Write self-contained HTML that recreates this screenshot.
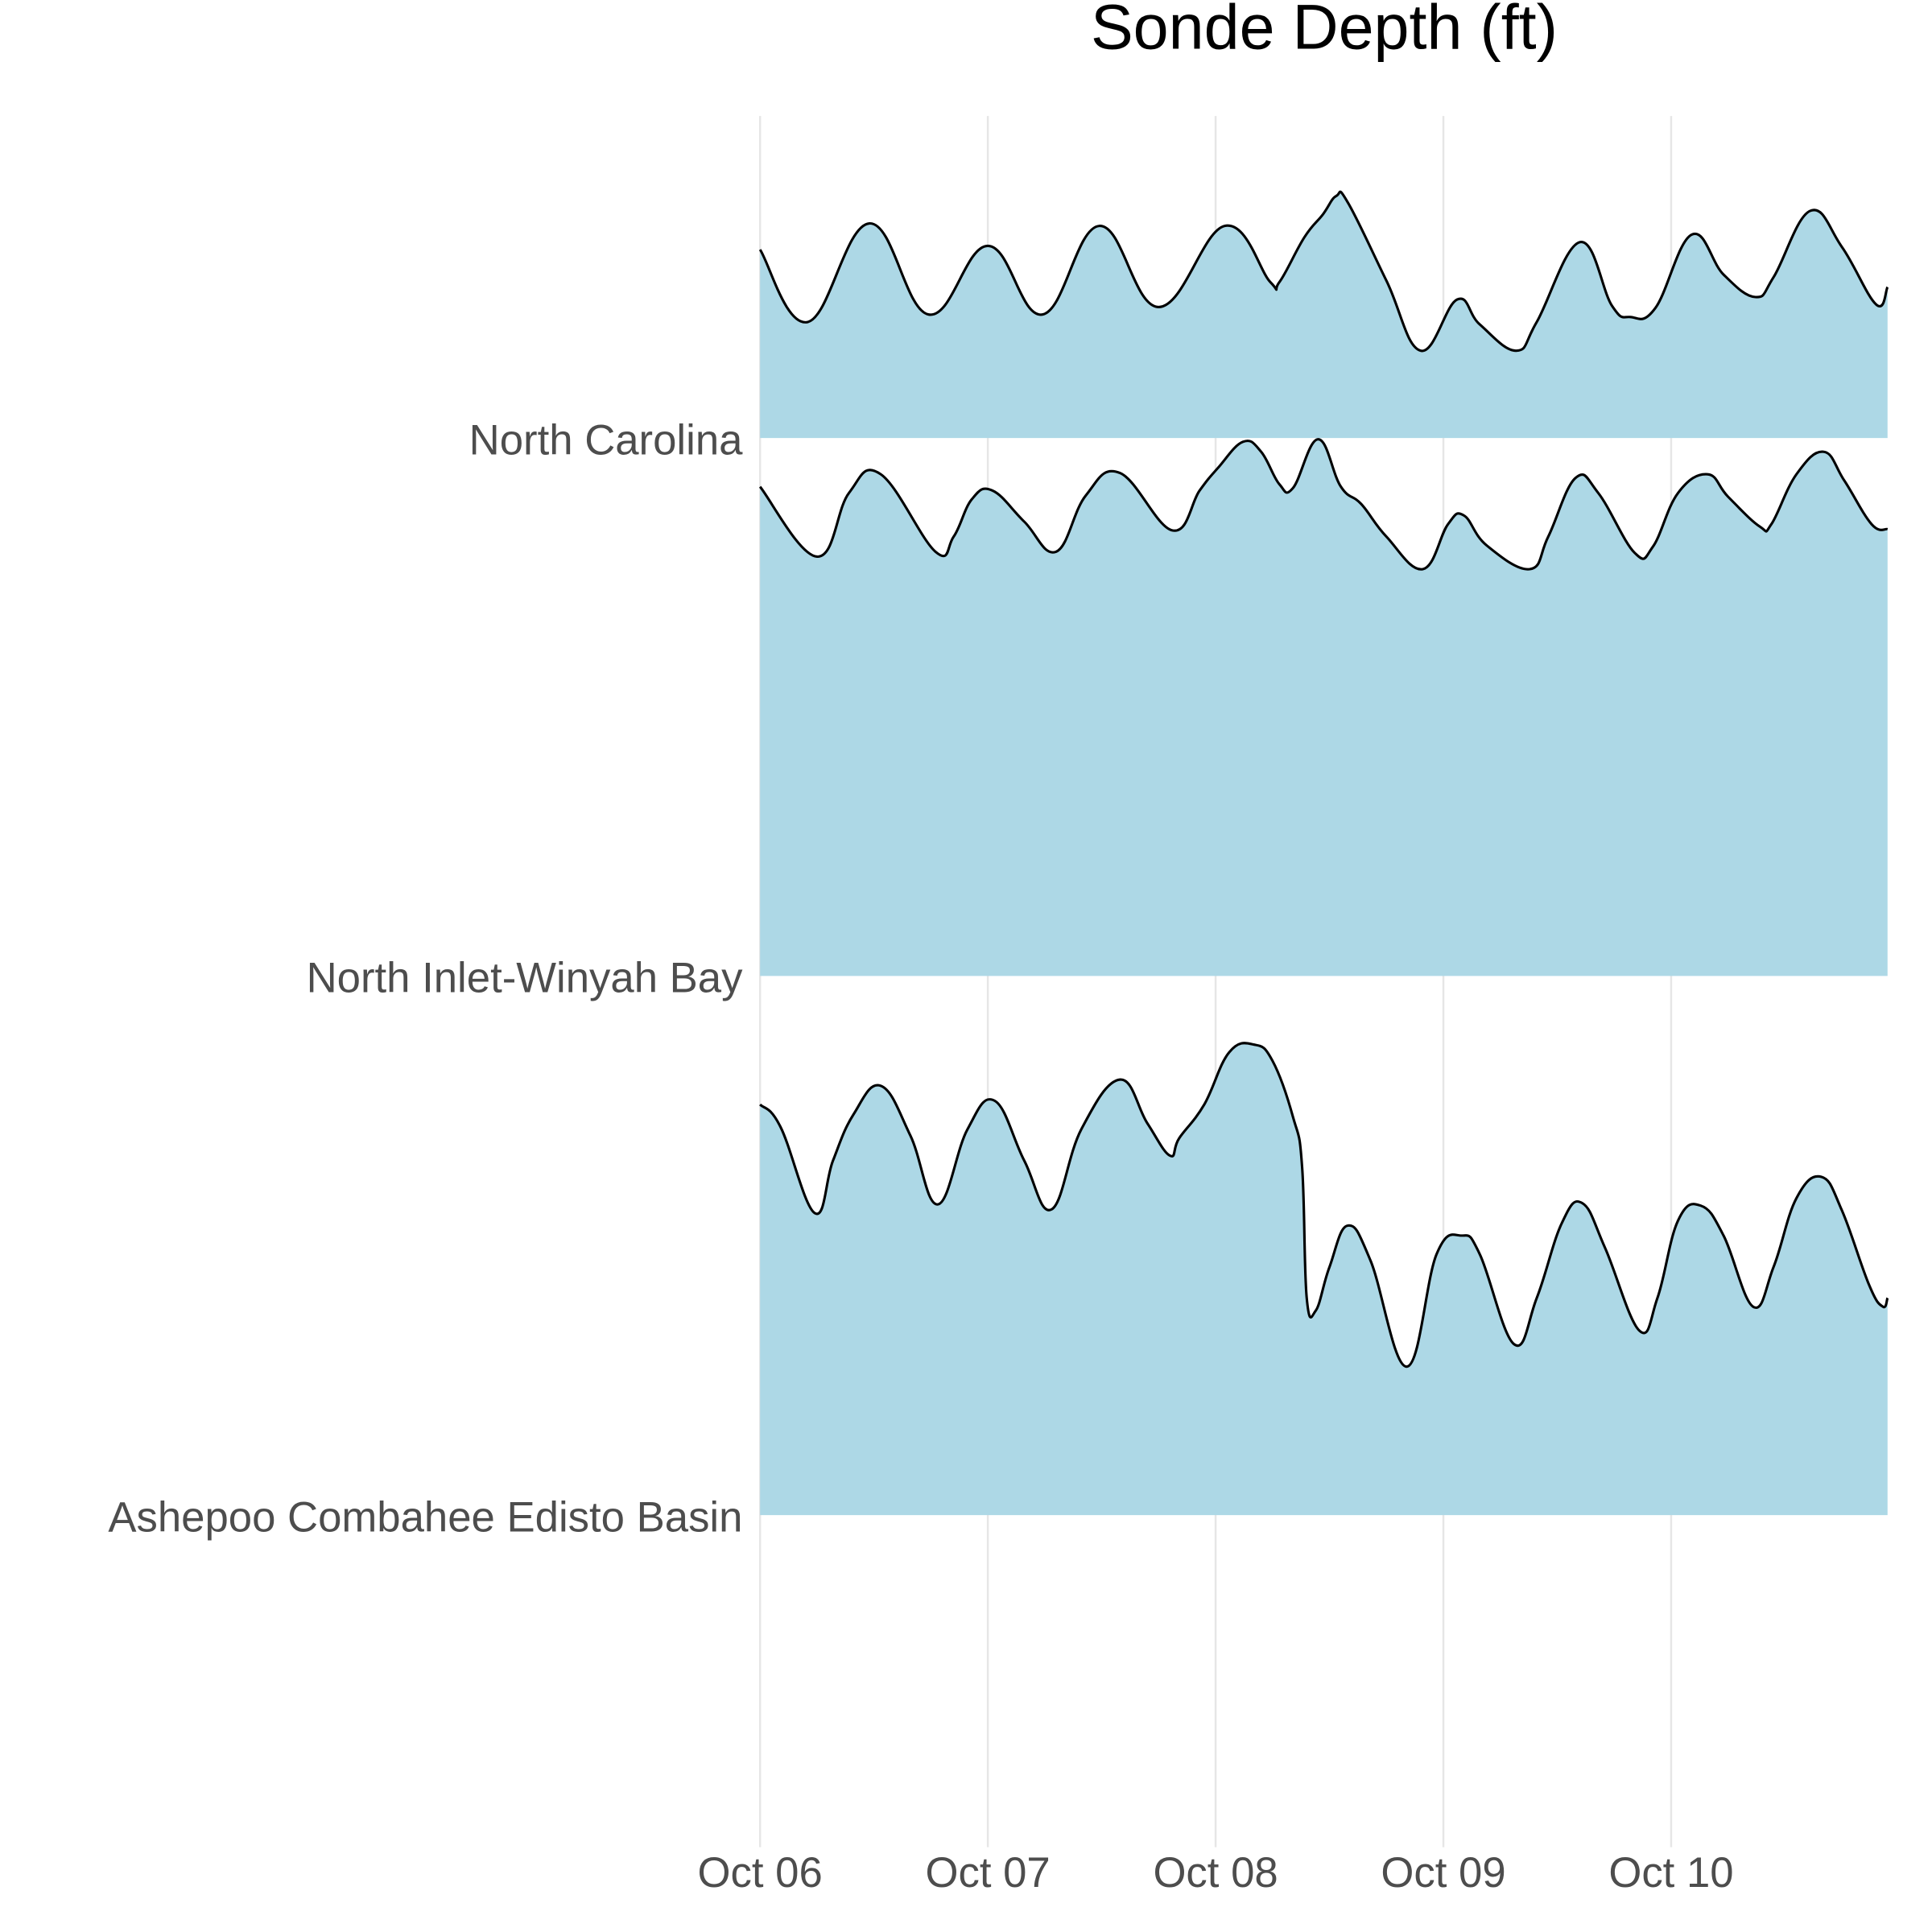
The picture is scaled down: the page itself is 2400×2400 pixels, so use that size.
<!DOCTYPE html>
<html><head><meta charset="utf-8"><style>
html,body{margin:0;padding:0;background:#fff;}
svg{display:block;}
text{font-family:"Liberation Sans",Arial,sans-serif;}
</style></head><body>
<svg id="chart" width="2400" height="2400" viewBox="0 0 1548 1548" xmlns="http://www.w3.org/2000/svg">
<text x="1061" y="39" font-size="51" text-anchor="middle" fill="#000">Sonde Depth (ft)</text>
<g id="grid"></g>
<g id="ridges"></g>
<g id="labels"></g>
</svg>
<script>
const categories = ["North Carolina","North Inlet-Winyah Bay","Ashepoo Combahee Edisto Basin"];
const xTickLabels = ["Oct 06","Oct 07","Oct 08","Oct 09","Oct 10"];
const xTickDays = [0,1,2,3,4];
const ncDays = [0,.21,.48,.74,1.0,1.24,1.49,1.75,2.04,2.24,2.28,2.39,2.47,2.53,2.58,2.75,2.9,3.06,3.16,3.32,3.41,3.6,3.74,3.82,3.93,4.09,4.23,4.37,4.45,4.61,4.75,4.9,4.95];
const ncDepth = [1.51,0.93,1.72,0.99,1.54,0.99,1.70,1.05,1.70,1.25,1.25,1.61,1.79,1.94,1.89,1.26,0.70,1.11,0.91,0.70,0.93,1.57,1.06,0.97,1.04,1.63,1.31,1.13,1.29,1.82,1.53,1.07,1.21];
const niwbDays = [0,.25,.39,.53,.77,.85,.93,1.02,1.16,1.3,1.43,1.58,1.81,1.93,2.01,2.12,2.2,2.28,2.34,2.45,2.55,2.64,2.75,2.91,3.02,3.09,3.19,3.38,3.46,3.58,3.68,3.84,3.92,4.03,4.16,4.25,4.39,4.44,4.55,4.67,4.76,4.88,4.95];
const niwbDepth = [3.92,3.36,3.87,4.02,3.40,3.52,3.82,3.89,3.64,3.40,3.85,4.03,3.57,3.89,4.07,4.28,4.20,3.94,3.91,4.30,3.92,3.78,3.52,3.26,3.62,3.69,3.45,3.26,3.52,3.99,3.87,3.39,3.44,3.87,4.02,3.84,3.60,3.62,4.02,4.20,3.97,3.62,3.58];
const aceDays = [0,.09,.24,.32,.41,.53,.66,.78,.91,1.03,1.16,1.28,1.41,1.58,1.7,1.8,1.84,1.95,2.06,2.17,2.25,2.34,2.38,2.4,2.44,2.5,2.58,2.68,2.84,2.97,3.08,3.16,3.31,3.41,3.52,3.61,3.71,3.86,3.94,4.03,4.13,4.23,4.36,4.45,4.55,4.66,4.75,4.87,4.93,4.95];
const aceDepth = [3.29,3.11,2.42,2.84,3.21,3.44,3.04,2.49,3.09,3.32,2.84,2.45,3.09,3.49,3.14,2.88,3.02,3.29,3.71,3.77,3.64,3.19,2.79,1.74,1.64,1.99,2.32,2.04,1.19,2.09,2.24,2.09,1.37,1.74,2.34,2.50,2.14,1.48,1.74,2.36,2.48,2.24,1.67,1.99,2.54,2.71,2.44,1.84,1.67,1.74];

const NS="http://www.w3.org/2000/svg";
const x0=609, dayW=182.5;
const baselines=[351,782,1214];
const pxPerFt=100;
function xScale(d){return x0+d*dayW;}
function yScale(i,v){return baselines[i]-v*pxPerFt;}
function smoothPath(p){
  let d='';
  for(let k=0;k<p.length-1;k++){
    const a=p[Math.max(0,k-1)],b=p[k],c=p[k+1],e=p[Math.min(p.length-1,k+2)];
    const t=0.2;
    const c1x=b[0]+(c[0]-a[0])*t, c1y=b[1]+(c[1]-a[1])*t;
    const c2x=c[0]-(e[0]-b[0])*t, c2y=c[1]-(e[1]-b[1])*t;
    d+=' C'+c1x.toFixed(1)+','+c1y.toFixed(1)+' '+c2x.toFixed(1)+','+c2y.toFixed(1)+' '+c[0].toFixed(1)+','+c[1].toFixed(1);
  }
  return d;
}
const grid=document.getElementById('grid');
const labels=document.getElementById('labels');
const ridges=document.getElementById('ridges');
xTickDays.forEach((d,k)=>{
  const l=document.createElementNS(NS,'line');
  
  
  l.setAttribute('x1',xScale(d));l.setAttribute('x2',xScale(d));
  l.setAttribute('y1',93);l.setAttribute('y2',1480);
  l.setAttribute('stroke','#e6e6e6');l.setAttribute('stroke-width','1.6');
  grid.appendChild(l);
  const t=document.createElementNS(NS,'text');
  
  
  t.setAttribute('x',xScale(d));t.setAttribute('y',1512);
  t.setAttribute('font-size','34');t.setAttribute('text-anchor','middle');t.setAttribute('fill','#4d4d4d');
  t.textContent=xTickLabels[k];
  labels.appendChild(t);
});
categories.forEach((c,i)=>{
  const t=document.createElementNS(NS,'text');
  
  
  t.setAttribute('x',595);t.setAttribute('y',baselines[i]+13);
  t.setAttribute('font-size','34');t.setAttribute('text-anchor','end');t.setAttribute('fill','#4d4d4d');
  t.textContent=c;
  labels.appendChild(t);
});
const series=[[ncDays,ncDepth],[niwbDays,niwbDepth],[aceDays,aceDepth]];
series.forEach((s,i)=>{
  const pts=s[0].map((d,k)=>[xScale(d),yScale(i,s[1][k])]);
  const curve=smoothPath(pts);
  const last=pts[pts.length-1][0];
  const area=document.createElementNS(NS,'path');
  
  
  area.setAttribute('d','M'+x0+','+baselines[i]+' L'+pts[0][0]+','+pts[0][1]+curve+' L'+last+','+baselines[i]+'Z');
  area.setAttribute('fill','#add8e6');
  ridges.appendChild(area);
  const line=document.createElementNS(NS,'path');
  
  
  line.setAttribute('d','M'+pts[0][0]+','+pts[0][1]+curve);
  line.setAttribute('fill','none');line.setAttribute('stroke','#000');line.setAttribute('stroke-width','2');
  line.setAttribute('stroke-linejoin','round');
  ridges.appendChild(line);
});
</script>
</body></html>
